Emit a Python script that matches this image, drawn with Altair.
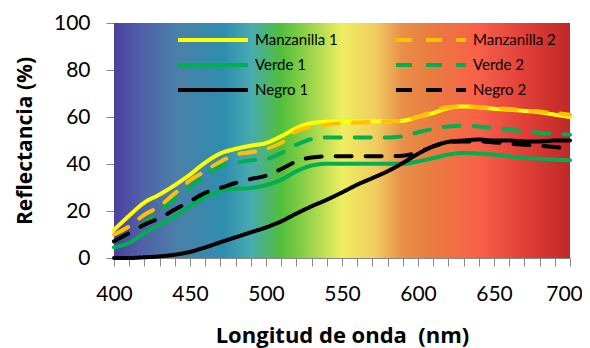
import altair as alt
import pandas as pd

# ---- data ----
wavelength = list(range(400, 701, 10))
series_names = ["Manzanilla 1", "Manzanilla 2", "Verde 1", "Verde 2", "Negro 1", "Negro 2"]
manzanilla_1 = [12, 18, 23.6, 27, 31, 35.5, 40.6, 44.5, 46.4, 47.8, 48.9, 51.8, 55.3, 57.4, 58, 58.2,
                58.2, 58.2, 58.2, 58.4, 60, 61.7, 63.8, 64.5, 64.1, 63.5, 63.1, 62.6, 62, 61, 60]
manzanilla_2 = [10, 13.5, 18.4, 22, 27.5, 33, 37, 41, 44, 45, 46.4, 49, 54, 55.7, 56.7, 57.4,
                57.7, 57.9, 58.2, 58.6, 60, 62.4, 64.3, 64.5, 64.3, 63.8, 63.4, 62.8, 62.3, 61.7, 61]
verde_1 = [4.5, 6.5, 10.6, 14.2, 17.7, 22, 26, 28.4, 29.4, 29.8, 31, 33.3, 36.9, 39.3, 40.1, 40.1,
           40.1, 40.1, 40.1, 40.1, 41.1, 42.5, 44, 44.7, 44.4, 44, 43.3, 42.5, 42.3, 41.8, 41.6]
verde_2 = [7, 10.6, 15, 20, 25, 30, 35, 39, 40.4, 41.6, 42.1, 44.7, 48.2, 50.6, 51.3, 51.3,
           51.3, 51.3, 51.3, 51.8, 53.5, 54.9, 56, 56.3, 56, 55.3, 54.6, 53.9, 53.2, 52.9, 52.5]
negro_1 = [0, 0, 0.3, 0.7, 1.4, 2.6, 4.5, 6.7, 8.8, 10.9, 13, 15.6, 18.9, 22, 24.8, 27.9,
           31.2, 34, 36.9, 40.4, 44.3, 47.5, 49.4, 50, 50.4, 50, 50, 49.6, 49.6, 50, 50]
negro_2 = [7.1, 10.6, 14.2, 17, 20.6, 24.1, 27.7, 29.8, 31.9, 33.6, 35, 37.9, 41.1, 42.8, 43.3, 43.3,
           43.3, 43.3, 43.3, 43.5, 45, 47.5, 49.2, 49.6, 49.6, 49.2, 48.7, 48.2, 47.8, 47.2, 46.4]

series_colors = ["#FFFF00", "#FFC000", "#00B050", "#00B050", "#000000", "#000000"]
series_dash = [[1, 0], [16, 14], [1, 0], [16, 14], [1, 0], [16, 14]]

# spectrum background (offset along the x range, colour)
spectrum_offsets = [0, 0.06, 0.14, 0.24, 0.30, 0.365, 0.43, 0.50, 0.575, 0.63, 0.69, 0.80, 0.90, 1.0]
spectrum_colors = ["#4B3FA0", "#5060A8", "#4A80A8", "#2E8DAF", "#48AAB0", "#50BE3C", "#98D44A",
                   "#EEEE60", "#F0CC60", "#E8904A", "#E87E40", "#F86048", "#E04038", "#C02828"]

values = [manzanilla_1, manzanilla_2, verde_1, verde_2, negro_1, negro_2]
rows = []
for name, vals in zip(series_names, values):
    for w, v in zip(wavelength, vals):
        rows.append({"wl": w, "refl": v, "serie": name})
df = pd.DataFrame(rows)

bg_df = pd.DataFrame({"x": [400], "x2": [700], "y": [0], "y2": [100]})

FONT = "Lato"
TFONT = "Open Sans"
xscale = alt.Scale(domain=[400, 700], nice=False)
yscale = alt.Scale(domain=[0, 100], nice=False)

x_axis = alt.Axis(values=list(range(400, 701, 10)),
                  labelExpr="datum.value % 50 === 0 ? datum.label : ''",
                  labelFlush=False, titleFontSize=22,
                  labelOffset={"condition": {"test": "datum.value === 700", "value": -6}, "value": 0},
                  title="Longitud de onda \u00a0(nm)", titlePadding=21, labelPadding=17)

gradient = alt.LinearGradient(
    gradient="linear",
    stops=[alt.GradientStop(offset=o, color=c) for o, c in zip(spectrum_offsets, spectrum_colors)],
    x1=0, x2=1, y1=0, y2=0,
)

bg = alt.Chart(bg_df).mark_rect(color=gradient).encode(
    x=alt.X("x:Q", scale=xscale, axis=x_axis),
    x2="x2:Q",
    y=alt.Y("y:Q", scale=yscale,
            axis=alt.Axis(values=[0, 20, 40, 60, 80, 100], title="Reflectancia (%)",
                          labelFlush=False, titlePadding=18, labelPadding=16)),
    y2="y2:Q",
)

lines = alt.Chart(df).mark_line(strokeWidth=4, interpolate="monotone", strokeCap="round").encode(
    x=alt.X("wl:Q", scale=xscale, axis=x_axis),
    y=alt.Y("refl:Q", scale=yscale,
            axis=alt.Axis(values=[10, 30, 50, 70, 90], labels=False, domain=False, grid=False,
                          title=None, offset=-7, tickSize=7, orient="left")),
    color=alt.Color("serie:N", scale=alt.Scale(domain=series_names, range=series_colors),
                    legend=alt.Legend(title=None, orient="none", legendX=90, legendY=8, columns=2,
                                      direction="horizontal",
                                      symbolType="M-5,0H5", symbolSize=196, symbolStrokeWidth=4,
                                      labelFontSize=15, labelFont=FONT, labelColor="#000",
                                      columnPadding=50, rowPadding=8, labelOffset=33)),
    strokeDash=alt.StrokeDash("serie:N", scale=alt.Scale(domain=series_names, range=series_dash),
                              legend=None),
    detail="serie:N",
)

chart = alt.layer(bg, lines).resolve_axis(y="independent").properties(
    width=456, height=235,
    autosize=alt.AutoSizeParams(type="none"),
    padding={"left": 106, "top": 15, "right": 12, "bottom": 90},
).configure_view(stroke=None).configure_axis(
    labelFont=FONT, labelFontSize=21, labelColor="#000",
    titleFont=TFONT, titleFontSize=21, titleFontWeight="bold", titleColor="#000",
    domainColor="#888888", tickColor="#888888", tickSize=8, grid=False,
)

chart.save("out.html", embed_options={"renderer": "svg", "actions": False})
